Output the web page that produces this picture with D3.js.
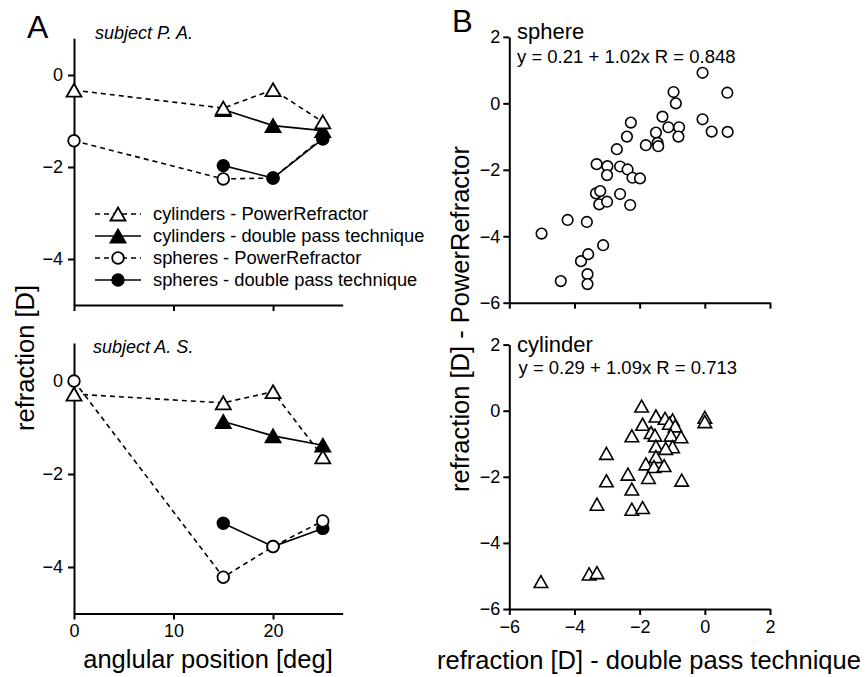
<!DOCTYPE html>
<html>
<head>
<meta charset="utf-8">
<script src="https://cdn.jsdelivr.net/npm/d3@7"></script>
<style>
  html, body { margin: 0; padding: 0; background: #fff; }
  svg { display: block; }
  text { font-family: "Liberation Sans", Arial, Helvetica, sans-serif; fill: #000; }
</style>
</head>
<body>
<svg id="chart" width="866" height="677"></svg>
<script>
// ---------------- DATA ----------------
const angles = [0, 15, 20, 25];

// subject P. A.
const paCylPR = [-0.33, -0.72, -0.32, -1.02];
const paCylDP = [null, -0.75, -1.10, -1.21];
const paSphPR = [-1.43, -2.26, -2.24, -1.36];
const paSphDP = [null, -1.97, -2.24, -1.39];

// subject A. S.
const asCylPR = [-0.28, -0.47, -0.23, -1.63];
const asCylDP = [null, -0.87, -1.18, -1.38];
const asSphPR = [0.0, -4.22, -3.56, -3.01];
const asSphDP = [null, -3.06, -3.56, -3.17];

const leftYTicks = [0, -2, -4];
const leftXTicks = [0, 10, 20];
const rightTicks = [-6, -4, -2, 0, 2];

const legendLabels = [
  "cylinders - PowerRefractor",
  "cylinders - double pass technique",
  "spheres - PowerRefractor",
  "spheres - double pass technique"
];

// sphere scatter: [double pass, PowerRefractor]
const sphereX = [-0.07, 0.69, -0.96, -0.89, -0.07, 0.21, 0.70, -1.30, -1.12, -0.79,
  -0.81, -1.50, -1.45, -1.43, -1.81, -2.27, -2.39, -2.70, -3.32, -2.99,
  -3.00, -2.60, -2.37, -2.22, -1.99, -3.34, -3.21, -3.24, -3.00, -2.60,
  -2.29, -4.21, -3.62, -5.01, -3.12, -3.80, -3.58, -3.60, -3.60, -4.42];
const sphereY = [0.92, 0.32, 0.34, 0.00, -0.48, -0.85, -0.86, -0.40, -0.72, -0.72,
  -1.00, -0.88, -1.19, -1.29, -1.26, -0.58, -1.00, -1.38, -1.83, -1.89,
  -2.16, -1.90, -1.99, -2.24, -2.26, -2.71, -2.64, -3.04, -2.96, -2.73,
  -3.06, -3.51, -3.57, -3.92, -4.27, -4.75, -4.54, -5.14, -5.44, -5.35];

// cylinder scatter
const cylX = [-1.94, -1.50, -1.22, -0.99, -1.09, -0.91, 0.00, 0.00, -1.91, -2.24,
  -1.65, -1.53, -1.04, -0.73, -1.50, -0.99, -1.20, -3.02, -1.50, -1.81,
  -1.56, -1.25, -2.36, -1.73, -3.02, -0.71, -2.24, -3.31, -2.24, -1.91,
  -5.03, -3.55, -3.31];
const cylY = [0.14, -0.16, -0.23, -0.28, -0.38, -0.46, -0.20, -0.33, -0.41, -0.76,
  -0.66, -0.74, -0.74, -0.79, -1.07, -1.09, -1.14, -1.29, -1.39, -1.61,
  -1.69, -1.66, -1.92, -2.02, -2.12, -2.10, -2.37, -2.83, -2.98, -2.93,
  -5.17, -4.94, -4.90];

// ---------------- DRAW ----------------
const svg = d3.select("#chart");
const FONT_TICK = 18;

function triPath(w, h) {
  return `M0,${-h/2}L${w/2},${h/2}L${-w/2},${h/2}Z`;
}

function styleAxis(g, showLabels) {
  g.select(".domain").attr("stroke", "#000").attr("stroke-width", 2);
  g.selectAll(".tick line").attr("stroke", "#000").attr("stroke-width", 2);
  g.selectAll(".tick text").style("font-size", FONT_TICK + "px")
    .style("font-family", '"Liberation Sans", Arial, sans-serif');
  if (!showLabels) g.selectAll(".tick text").remove();
}

// ---- Panel A ----
const xA = d3.scaleLinear().domain([0, 27]).range([74, 342.7]);

// series index: 0 cyl PR, 1 cyl DP, 2 sph PR, 3 sph DP ; order = drawing order of markers
const panelsA = [
  { y: d3.scaleLinear().domain([-5, 0.8]).range([305, 38.2]),
    cylPR: paCylPR, cylDP: paCylDP, sphPR: paSphPR, sphDP: paSphDP,
    title: "subject P. A.", tx: 95, ty: 39, xLabels: false, order: [2, 3, 1, 0] },
  { y: d3.scaleLinear().domain([-5, 0.82]).range([613.5, 342.9]),
    cylPR: asCylPR, cylDP: asCylDP, sphPR: asSphPR, sphDP: asSphDP,
    title: "subject A. S.", tx: 93, ty: 353, xLabels: true, order: [3, 2, 0, 1] }
];

const TRI_W = 15, TRI_H = 13, CIRC_R = 5.8;

panelsA.forEach(p => {
  const g = svg.append("g");
  const yS = p.y;
  const line = d3.line()
    .defined(d => d[1] !== null)
    .x(d => xA(d[0])).y(d => yS(d[1]));

  const series = [
    { vals: p.cylPR, dash: true, sym: "tri", fill: "#fff" },
    { vals: p.cylDP, dash: false, sym: "tri", fill: "#000" },
    { vals: p.sphPR, dash: true, sym: "circ", fill: "#fff" },
    { vals: p.sphDP, dash: false, sym: "circ", fill: "#000" }
  ];

  // lines
  series.forEach(s => {
    const pts = angles.map((a, i) => [a, s.vals[i]]);
    g.append("path").datum(pts)
      .attr("d", line)
      .attr("fill", "none")
      .attr("stroke", "#000")
      .attr("stroke-width", 1.6)
      .attr("stroke-dasharray", s.dash ? "5,4" : null);
  });

  // axes
  g.append("g").attr("transform", `translate(${xA(0)},0)`)
    .call(d3.axisLeft(yS).tickValues(leftYTicks).tickSize(6).tickPadding(5).tickSizeOuter(0)
      .tickFormat(d3.format("d")))
    .call(a => styleAxis(a, true));
  g.append("g").attr("transform", `translate(0,${yS(-5)})`)
    .call(d3.axisBottom(xA).tickValues(leftXTicks).tickSize(6).tickPadding(5).tickSizeOuter(0))
    .call(a => styleAxis(a, p.xLabels));

  p.order.forEach(k => {
    const s = series[k];
    const pts = angles.map((a, i) => [a, s.vals[i]]).filter(d => d[1] !== null);
    if (s.sym === "tri") {
      g.selectAll(null).data(pts).enter().append("path")
        .attr("d", triPath(TRI_W, TRI_H))
        .attr("transform", d => `translate(${xA(d[0])},${yS(d[1])})`)
        .attr("fill", s.fill).attr("stroke", "#000").attr("stroke-width", 1.8)
        .attr("stroke-linejoin", "miter");
    } else {
      g.selectAll(null).data(pts).enter().append("circle")
        .attr("cx", d => xA(d[0])).attr("cy", d => yS(d[1]))
        .attr("r", CIRC_R)
        .attr("fill", s.fill).attr("stroke", "#000").attr("stroke-width", 1.8);
    }
  });

  g.append("text").attr("x", p.tx).attr("y", p.ty)
    .style("font-size", "18px").style("font-style", "italic").text(p.title);
});

// Legend (top-left panel)
const legend = svg.append("g");
const legendY0 = 220, legendDY = 22;
legendLabels.forEach((lab, i) => {
  const yy = legendY0 + i * legendDY - 6;
  const dashed = (i % 2 === 0);
  const filled = (i % 2 === 1);
  const isTri = i < 2;
  legend.append("line").attr("x1", 95).attr("x2", 141).attr("y1", yy).attr("y2", yy)
    .attr("stroke", "#000").attr("stroke-width", 1.6)
    .attr("stroke-dasharray", dashed ? "5,4" : null);
  if (isTri) {
    legend.append("path").attr("d", triPath(TRI_W, TRI_H))
      .attr("transform", `translate(118,${yy})`)
      .attr("fill", filled ? "#000" : "#fff").attr("stroke", "#000").attr("stroke-width", 1.8);
  } else {
    legend.append("circle").attr("cx", 118).attr("cy", yy).attr("r", CIRC_R)
      .attr("fill", filled ? "#000" : "#fff").attr("stroke", "#000").attr("stroke-width", 1.8);
  }
  legend.append("text").attr("x", 153).attr("y", legendY0 + i * legendDY)
    .style("font-size", "18.3px").text(lab);
});

// Panel labels
svg.append("text").attr("x", 27).attr("y", 38).style("font-size", "32px").text("A");
svg.append("text").attr("x", 452).attr("y", 32).style("font-size", "31px").text("B");

// Left axis titles
svg.append("text")
  .attr("transform", "translate(34,358) rotate(-90)")
  .attr("text-anchor", "middle").style("font-size", "25.5px").text("refraction [D]");
svg.append("text").attr("x", 208).attr("y", 668)
  .attr("text-anchor", "middle").style("font-size", "25.5px").text("anglular position [deg]");

// ---- Panel B ----
const xB = d3.scaleLinear().domain([-6, 2]).range([509.3, 770]);
const panelsB = [
  { y: d3.scaleLinear().domain([-6, 2]).range([302.7, 36.9]), xs: sphereX, ys: sphereY,
    sym: "circ", name: "sphere", eq: "y = 0.21 + 1.02x R = 0.848", ny: 39, ey: 62.5, ex: 517, xLabels: false },
  { y: d3.scaleLinear().domain([-6, 2]).range([609, 344.6]), xs: cylX, ys: cylY,
    sym: "tri", name: "cylinder", eq: "y = 0.29 + 1.09x R = 0.713", ny: 352, ey: 373.5, ex: 518.5, xLabels: true }
];

panelsB.forEach(p => {
  const g = svg.append("g");
  const yS = p.y;
  g.append("g").attr("transform", `translate(${xB(-6)},0)`)
    .call(d3.axisLeft(yS).tickValues(rightTicks).tickSize(6).tickPadding(3).tickSizeOuter(0)
      .tickFormat(d3.format("d")))
    .call(a => styleAxis(a, true));
  g.append("g").attr("transform", `translate(0,${yS(-6)})`)
    .call(d3.axisBottom(xB).tickValues(rightTicks).tickSize(6).tickPadding(5).tickSizeOuter(0)
      .tickFormat(d3.format("d")))
    .call(a => styleAxis(a, p.xLabels));

  const pts = p.xs.map((x, i) => [x, p.ys[i]]);
  if (p.sym === "circ") {
    g.selectAll(null).data(pts).enter().append("circle")
      .attr("cx", d => xB(d[0])).attr("cy", d => yS(d[1])).attr("r", 5.3)
      .attr("fill", "#fff").attr("stroke", "#000").attr("stroke-width", 1.6);
  } else {
    g.selectAll(null).data(pts).enter().append("path")
      .attr("d", triPath(13.5, 12))
      .attr("transform", d => `translate(${xB(d[0])},${yS(d[1])})`)
      .attr("fill", "#fff").attr("stroke", "#000").attr("stroke-width", 1.6);
  }
  g.append("text").attr("x", 517).attr("y", p.ny).style("font-size", "22px").text(p.name);
  g.append("text").attr("x", p.ex).attr("y", p.ey).style("font-size", "18.5px").text(p.eq);
});

svg.append("text")
  .attr("transform", "translate(469,319) rotate(-90)")
  .attr("text-anchor", "middle").style("font-size", "25.5px").text("refraction [D] - PowerRefractor");
svg.append("text").attr("x", 649).attr("y", 669)
  .attr("text-anchor", "middle").style("font-size", "25.5px").text("refraction [D] - double pass technique");
</script>
</body>
</html>
